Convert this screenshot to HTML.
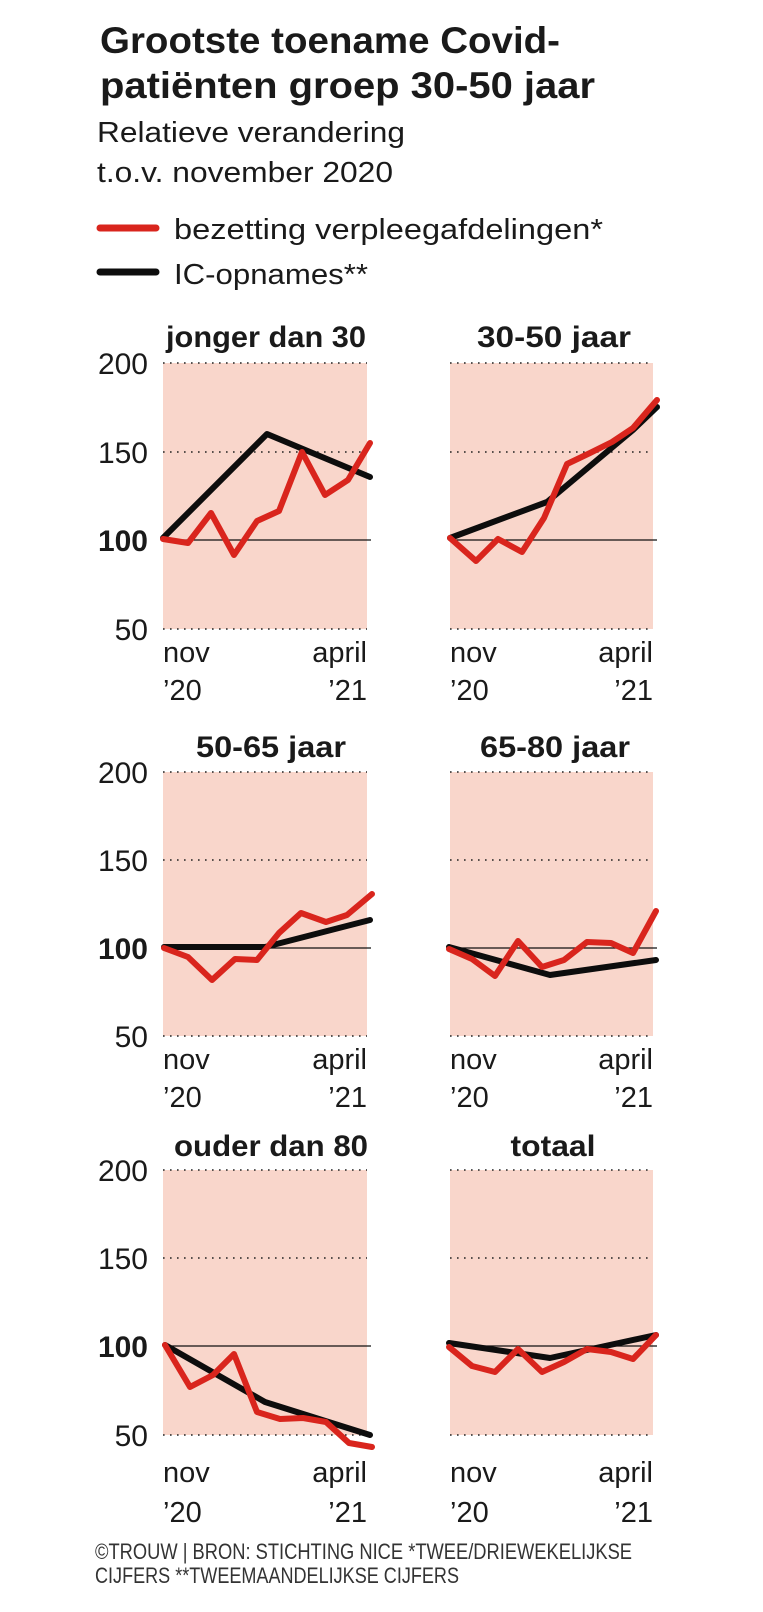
<!DOCTYPE html>
<html><head><meta charset="utf-8"><style>
html,body{margin:0;padding:0;background:#fff}
svg{display:block}
text{font-family:"Liberation Sans",sans-serif;fill:#1a1a1a}
.t{font-weight:bold;font-size:37px}
.s{font-size:29px}
.pt{font-weight:bold;font-size:30px}
.yl{font-size:30px}
.xl{font-size:29px}
.f{font-size:22px;fill:#333}
.fill{fill:#f9d6cb}
.dot{stroke:#222;stroke-width:1.6;stroke-dasharray:1.6 5.4}
.base{stroke:#111;stroke-width:1.3}
.r{fill:none;stroke:#d9251d;stroke-width:6;stroke-linejoin:round;stroke-linecap:round}
.k{fill:none;stroke:#0d0d0d;stroke-width:6;stroke-linejoin:round;stroke-linecap:round}
</style></head><body>
<svg width="763" height="1612" viewBox="0 0 763 1612" xmlns="http://www.w3.org/2000/svg">
<text class="t" x="100" y="53" textLength="460" lengthAdjust="spacingAndGlyphs">Grootste toename Covid-</text>
<text class="t" x="100" y="98" textLength="495" lengthAdjust="spacingAndGlyphs">patiënten groep 30-50 jaar</text>
<text class="s" x="97" y="142" textLength="308" lengthAdjust="spacingAndGlyphs">Relatieve verandering</text>
<text class="s" x="97" y="182" textLength="296" lengthAdjust="spacingAndGlyphs">t.o.v. november 2020</text>
<line x1="100" y1="228" x2="156" y2="228" stroke="#d9251d" stroke-width="7" stroke-linecap="round"/>
<text class="s" x="174" y="239" textLength="429" lengthAdjust="spacingAndGlyphs">bezetting verpleegafdelingen*</text>
<line x1="100" y1="272" x2="156" y2="272" stroke="#0d0d0d" stroke-width="7" stroke-linecap="round"/>
<text class="s" x="174" y="284" textLength="194" lengthAdjust="spacingAndGlyphs">IC-opnames**</text>

<!-- Row 1 -->
<g>
<rect class="fill" x="163" y="363" width="204" height="266"/>
<rect class="fill" x="450" y="363" width="203" height="266"/>
<line class="dot" x1="163" y1="363" x2="367" y2="363"/><line class="dot" x1="163" y1="452" x2="367" y2="452"/><line class="dot" x1="163" y1="629" x2="367" y2="629"/>
<line class="dot" x1="450" y1="363" x2="653" y2="363"/><line class="dot" x1="450" y1="452" x2="653" y2="452"/><line class="dot" x1="450" y1="629" x2="653" y2="629"/>
<line class="base" x1="163" y1="540" x2="371" y2="540"/><line class="base" x1="450" y1="540" x2="657" y2="540"/>
<text class="yl" x="148" y="374" text-anchor="end">200</text>
<text class="yl" x="148" y="463" text-anchor="end">150</text>
<text class="yl" x="148" y="551" text-anchor="end" font-weight="bold">100</text>
<text class="yl" x="148" y="640" text-anchor="end">50</text>
<text class="pt" x="266" y="347" text-anchor="middle" textLength="200" lengthAdjust="spacingAndGlyphs">jonger dan 30</text>
<text class="pt" x="554" y="347" text-anchor="middle" textLength="154" lengthAdjust="spacingAndGlyphs">30-50 jaar</text>
<polyline class="k" points="163,538 267,434 370,477"/>
<polyline class="r" points="163,539 188,543 211,513 234,555 257,521 279,511 302,452 325,495 348,480 370,443"/>
<polyline class="k" points="450,538 547,502 633,430 657,407"/>
<polyline class="r" points="450,538 476,561 498,539 522,552 544,518 567,464 590,453 612,442 633,428 657,400"/>
<text class="xl" x="163" y="662">nov</text><text class="xl" x="163" y="700">’20</text>
<text class="xl" x="367" y="662" text-anchor="end">april</text><text class="xl" x="367" y="700" text-anchor="end">’21</text>
<text class="xl" x="450" y="662">nov</text><text class="xl" x="450" y="700">’20</text>
<text class="xl" x="653" y="662" text-anchor="end">april</text><text class="xl" x="653" y="700" text-anchor="end">’21</text>
</g>

<!-- Row 2 -->
<g>
<rect class="fill" x="163" y="772" width="204" height="264"/>
<rect class="fill" x="450" y="772" width="203" height="264"/>
<line class="dot" x1="163" y1="772" x2="367" y2="772"/><line class="dot" x1="163" y1="860" x2="367" y2="860"/><line class="dot" x1="163" y1="1036" x2="367" y2="1036"/>
<line class="dot" x1="450" y1="772" x2="653" y2="772"/><line class="dot" x1="450" y1="860" x2="653" y2="860"/><line class="dot" x1="450" y1="1036" x2="653" y2="1036"/>
<line class="base" x1="163" y1="948" x2="371" y2="948"/><line class="base" x1="450" y1="948" x2="657" y2="948"/>
<text class="yl" x="148" y="783" text-anchor="end">200</text>
<text class="yl" x="148" y="871" text-anchor="end">150</text>
<text class="yl" x="148" y="959" text-anchor="end" font-weight="bold">100</text>
<text class="yl" x="148" y="1047" text-anchor="end">50</text>
<text class="pt" x="271" y="757" text-anchor="middle" textLength="150" lengthAdjust="spacingAndGlyphs">50-65 jaar</text>
<text class="pt" x="555" y="757" text-anchor="middle" textLength="150" lengthAdjust="spacingAndGlyphs">65-80 jaar</text>
<polyline class="k" points="164,947 265,947 370,920"/>
<polyline class="r" points="164,948 188,957 212,980 235,959 257,960 279,933 301,913 326,922 347,915 372,894"/>
<polyline class="k" points="449,947 550,975 656,960"/>
<polyline class="r" points="449,949 472,959 495,976 518,941 542,967 564,960 587,942 611,943 633,953 656,911"/>
<text class="xl" x="163" y="1069">nov</text><text class="xl" x="163" y="1107">’20</text>
<text class="xl" x="367" y="1069" text-anchor="end">april</text><text class="xl" x="367" y="1107" text-anchor="end">’21</text>
<text class="xl" x="450" y="1069">nov</text><text class="xl" x="450" y="1107">’20</text>
<text class="xl" x="653" y="1069" text-anchor="end">april</text><text class="xl" x="653" y="1107" text-anchor="end">’21</text>
</g>

<!-- Row 3 -->
<g>
<rect class="fill" x="163" y="1170" width="204" height="265"/>
<rect class="fill" x="450" y="1170" width="203" height="265"/>
<line class="dot" x1="163" y1="1170" x2="367" y2="1170"/><line class="dot" x1="163" y1="1258" x2="367" y2="1258"/><line class="dot" x1="163" y1="1435" x2="367" y2="1435"/>
<line class="dot" x1="450" y1="1170" x2="653" y2="1170"/><line class="dot" x1="450" y1="1258" x2="653" y2="1258"/><line class="dot" x1="450" y1="1435" x2="653" y2="1435"/>
<line class="base" x1="163" y1="1346" x2="371" y2="1346"/><line class="base" x1="450" y1="1346" x2="657" y2="1346"/>
<text class="yl" x="148" y="1181" text-anchor="end">200</text>
<text class="yl" x="148" y="1269" text-anchor="end">150</text>
<text class="yl" x="148" y="1357" text-anchor="end" font-weight="bold">100</text>
<text class="yl" x="148" y="1446" text-anchor="end">50</text>
<text class="pt" x="271" y="1156" text-anchor="middle" textLength="194" lengthAdjust="spacingAndGlyphs">ouder dan 80</text>
<text class="pt" x="553" y="1156" text-anchor="middle" textLength="85" lengthAdjust="spacingAndGlyphs">totaal</text>
<polyline class="k" points="165,1345 265,1402 370,1435"/>
<polyline class="r" points="165,1345 190,1387 213,1375 234,1354 257,1412 280,1419 303,1418 326,1422 349,1443 372,1447"/>
<polyline class="k" points="449,1343 550,1358 656,1335"/>
<polyline class="r" points="449,1347 472,1366 495,1372 518,1349 542,1372 564,1362 587,1349 611,1352 633,1359 656,1335"/>
<text class="xl" x="163" y="1482">nov</text><text class="xl" x="163" y="1522">’20</text>
<text class="xl" x="367" y="1482" text-anchor="end">april</text><text class="xl" x="367" y="1522" text-anchor="end">’21</text>
<text class="xl" x="450" y="1482">nov</text><text class="xl" x="450" y="1522">’20</text>
<text class="xl" x="653" y="1482" text-anchor="end">april</text><text class="xl" x="653" y="1522" text-anchor="end">’21</text>
</g>

<text class="f" x="95" y="1559" textLength="537" lengthAdjust="spacingAndGlyphs">©TROUW | BRON: STICHTING NICE   *TWEE/DRIEWEKELIJKSE</text>
<text class="f" x="95" y="1583" textLength="364" lengthAdjust="spacingAndGlyphs">CIJFERS  **TWEEMAANDELIJKSE CIJFERS</text>
</svg>
</body></html>
